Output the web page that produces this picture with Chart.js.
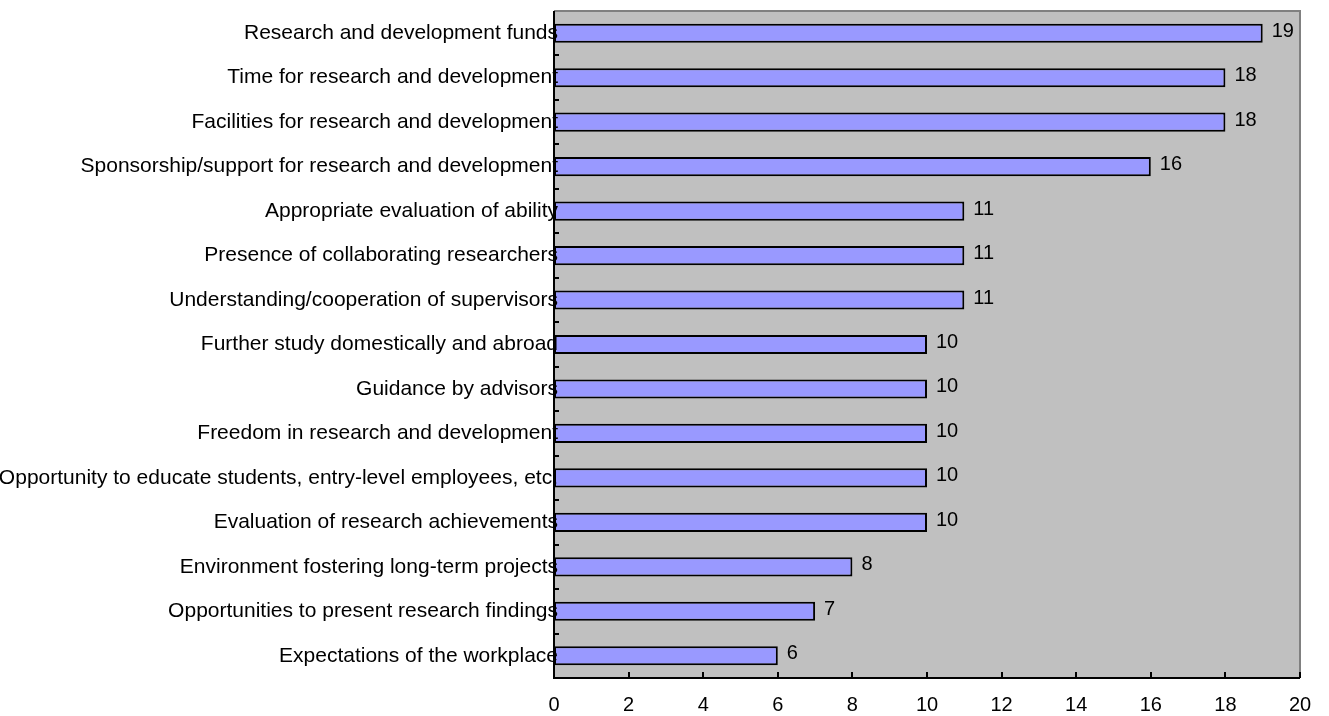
<!DOCTYPE html>
<html>
<head>
<meta charset="utf-8">
<script src="https://cdn.jsdelivr.net/npm/chart.js@4"></script>
<style>
  html, body { margin: 0; padding: 0; background: #fff; }
</style>
</head>
<body>
<canvas id="grafico" width="1329" height="716"></canvas>
<script>
const categorias = [
  "Research and development funds",
  "Time for research and development",
  "Facilities for research and development",
  "Sponsorship/support for research and development",
  "Appropriate evaluation of ability",
  "Presence of collaborating researchers",
  "Understanding/cooperation of supervisors",
  "Further study domestically and abroad",
  "Guidance by advisors",
  "Freedom in research and development",
  "Opportunity to educate students, entry-level employees, etc.",
  "Evaluation of research achievements",
  "Environment fostering long-term projects",
  "Opportunities to present research findings",
  "Expectations of the workplace"
];
const valores = [19, 18, 18, 16, 11, 11, 11, 10, 10, 10, 10, 10, 8, 7, 6];
const eixoX = { min: 0, max: 20, passo: 2 };

const fonte = "'Liberation Sans', Arial, sans-serif";
Chart.defaults.font.family = fonte;
Chart.defaults.color = '#000';

// fundo cinza, bordas, marcas para dentro e textos que invadem a área do gráfico
const moldura = {
  id: 'moldura',
  beforeDatasetsDraw(chart) {
    const { ctx, chartArea: a } = chart;
    ctx.save();
    ctx.fillStyle = '#C0C0C0';
    ctx.fillRect(a.left, a.top, a.right - a.left, a.bottom - a.top);
    ctx.restore();
  },
  afterDatasetsDraw(chart) {
    const { ctx, chartArea: a, scales } = chart;
    ctx.save();
    ctx.strokeStyle = '#808080';
    ctx.lineWidth = 2;
    ctx.beginPath();
    ctx.moveTo(a.left, a.top);
    ctx.lineTo(a.right, a.top);
    ctx.lineTo(a.right, a.bottom);
    ctx.stroke();

    ctx.strokeStyle = '#000';
    ctx.beginPath();
    ctx.moveTo(a.left, a.top);
    ctx.lineTo(a.left, a.bottom);
    ctx.lineTo(a.right, a.bottom);
    ctx.stroke();

    const n = categorias.length;
    const banda = (a.bottom - a.top) / n;
    ctx.beginPath();
    for (let i = 1; i < n; i++) {
      const y = Math.round(a.top + i * banda);
      ctx.moveTo(a.left, y);
      ctx.lineTo(a.left + 5, y);
    }
    for (let v = eixoX.min + eixoX.passo; v <= eixoX.max; v += eixoX.passo) {
      const x = Math.round(scales.x.getPixelForValue(v));
      ctx.moveTo(x, a.bottom);
      ctx.lineTo(x, a.bottom - 6);
    }
    ctx.stroke();

    // nomes das categorias (passam um pouco do eixo, como no original)
    ctx.fillStyle = '#000';
    ctx.font = '21px ' + fonte;
    ctx.textAlign = 'right';
    ctx.textBaseline = 'middle';
    categorias.forEach((nome, i) => {
      ctx.fillText(nome, a.left + 4, scales.y.getPixelForValue(i));
    });

    // valores ao lado das barras
    ctx.font = '20px ' + fonte;
    ctx.textAlign = 'left';
    chart.getDatasetMeta(0).data.forEach((bar, i) => {
      ctx.fillText(valores[i], bar.x + 9, bar.y - 2);
    });
    ctx.restore();
  }
};

new Chart(document.getElementById('grafico'), {
  type: 'bar',
  data: {
    labels: categorias,
    datasets: [{
      data: valores,
      backgroundColor: '#9999FF',
      borderColor: '#000',
      borderWidth: 2,
      borderSkipped: false,
      categoryPercentage: 1,
      barPercentage: 0.43
    }]
  },
  options: {
    indexAxis: 'y',
    responsive: false,
    animation: false,
    layout: { padding: { top: 11, right: 29, left: 0, bottom: 0 } },
    plugins: {
      legend: { display: false },
      tooltip: { enabled: false }
    },
    scales: {
      y: {
        grid: { display: false, drawTicks: false },
        border: { display: false },
        ticks: { display: false },
        afterFit(scale) { scale.width = 554; }
      },
      x: {
        min: eixoX.min,
        max: eixoX.max,
        grid: { display: false, drawTicks: false },
        border: { display: false },
        ticks: {
          stepSize: eixoX.passo,
          padding: 15,
          font: { size: 20 },
          color: '#000',
          maxRotation: 0
        },
        afterFit(scale) { scale.height = 38; }
      }
    }
  },
  plugins: [moldura]
});
</script>
</body>
</html>
